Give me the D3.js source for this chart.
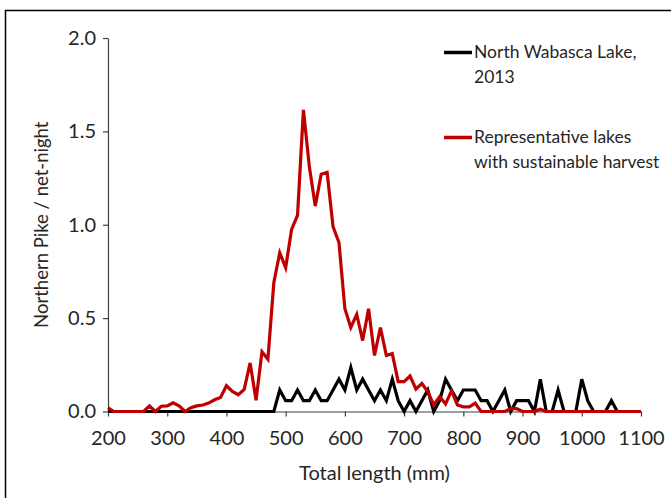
<!DOCTYPE html>
<html>
<head>
<meta charset="utf-8">
<script src="https://cdn.jsdelivr.net/npm/d3@7"></script>
<style>
  body { margin: 0; background: #fff; }
  text { font-family: Lato, "Open Sans", sans-serif; fill: #262626; }
</style>
</head>
<body>
<svg id="chart"></svg>
<script>
// total length bins (mm)
const lengths = [200, 210, 220, 230, 240, 250, 260, 270, 280, 290,
                 300, 310, 320, 330, 340, 350, 360, 370, 380, 390,
                 400, 410, 420, 430, 440, 450, 460, 470, 480, 490,
                 500, 510, 520, 530, 540, 550, 560, 570, 580, 590,
                 600, 610, 620, 630, 640, 650, 660, 670, 680, 690,
                 700, 710, 720, 730, 740, 750, 760, 770, 780, 790,
                 800, 810, 820, 830, 840, 850, 860, 870, 880, 890,
                 900, 910, 920, 930, 940, 950, 960, 970, 980, 990,
                 1000, 1010, 1020, 1030, 1040, 1050, 1060, 1070, 1080, 1090,
                 1100];

// North Wabasca Lake, 2013
const wabasca = [0, 0, 0, 0, 0, 0, 0, 0, 0, 0,
                 0, 0, 0, 0, 0, 0, 0, 0, 0, 0,
                 0, 0, 0, 0, 0, 0, 0, 0, 0, 0.115,
                 0.058, 0.058, 0.115, 0.058, 0.058, 0.115, 0.058, 0.058, 0.115, 0.173,
                 0.115, 0.235, 0.115, 0.173, 0.115, 0.058, 0.115, 0.058, 0.173, 0.058,
                 0, 0.058, 0, 0.058, 0.115, 0, 0.058, 0.173, 0.115, 0.058,
                 0.115, 0.115, 0.115, 0.058, 0.058, 0, 0.058, 0.115, 0, 0.058,
                 0.058, 0.058, 0, 0.173, 0, 0, 0.115, 0, 0, 0,
                 0.173, 0.058, 0, 0, 0, 0.058, 0, 0, 0, 0,
                 0];

// representative lakes with sustainable harvest
const representative = [0.02, 0, 0, 0, 0, 0, 0, 0.03, 0, 0.028,
                        0.03, 0.047, 0.03, 0, 0.02, 0.03, 0.035, 0.045, 0.063, 0.075,
                        0.138, 0.108, 0.09, 0.118, 0.26, 0.06, 0.32, 0.28, 0.69, 0.85,
                        0.77, 0.975, 1.05, 1.615, 1.31, 1.10, 1.27, 1.28, 0.99, 0.905,
                        0.55, 0.45, 0.52, 0.38, 0.55, 0.30, 0.45, 0.30, 0.31, 0.16,
                        0.16, 0.19, 0.12, 0.15, 0.105, 0.035, 0.08, 0.04, 0.11, 0.035,
                        0.025, 0.025, 0.045, 0, 0, 0, 0, 0, 0.015, 0.015,
                        0, 0, 0, 0.012, 0, 0, 0, 0, 0, 0,
                        0, 0, 0, 0, 0, 0, 0, 0, 0, 0,
                        0];

const xTicks = [200, 300, 400, 500, 600, 700, 800, 900, 1000, 1100];
const yTicks = [0, 0.5, 1.0, 1.5, 2.0];
const seriesNames = [["North Wabasca Lake,", "2013"],
                     ["Representative lakes", "with sustainable harvest"]];
const seriesColors = ["#000000", "#c00000"];

const w = 671, h = 498;
const svg = d3.select("#chart").attr("width", w).attr("height", h);

// outer frame (runs off the right and bottom edges)
svg.append("rect")
   .attr("x", 5.5).attr("y", 10.5)
   .attr("width", 700).attr("height", 520)
   .attr("fill", "none").attr("stroke", "#000").attr("stroke-width", 1.5);

const x = d3.scaleLinear().domain([200, 1100]).range([108, 641]);
const y = d3.scaleLinear().domain([0, 2]).range([411.5, 38]);

const xAxis = svg.append("g")
   .attr("transform", `translate(0,${y(0)})`)
   .call(d3.axisBottom(x).tickValues(xTicks).tickFormat(d3.format("d"))
           .tickSize(5).tickPadding(14).tickSizeOuter(0));
xAxis.selectAll("text").style("font-size", "20px");

const yAxis = svg.append("g")
   .attr("transform", `translate(${x(200)},0)`)
   .call(d3.axisLeft(y).tickValues(yTicks).tickFormat(d3.format(".1f"))
           .tickSize(5).tickPadding(7).tickSizeOuter(0));
yAxis.selectAll("text").style("font-size", "20px");

svg.selectAll(".domain, .tick line").attr("stroke", "#404040").attr("stroke-width", 1.2);

// axis titles
svg.append("text")
   .attr("x", (x(200) + x(1100)) / 2).attr("y", 480)
   .attr("text-anchor", "middle")
   .style("font-size", "20px")
   .text("Total length (mm)");

svg.append("text")
   .attr("transform", `translate(48,${(y(0) + y(2)) / 2}) rotate(-90)`)
   .attr("text-anchor", "middle")
   .style("font-size", "18.5px")
   .text("Northern Pike / net-night");

// lines
const line = d3.line()
   .x((d, i) => x(lengths[i]))
   .y(d => y(d));

[wabasca, representative].forEach((series, k) => {
  svg.append("path")
     .datum(series)
     .attr("fill", "none")
     .attr("stroke", seriesColors[k])
     .attr("stroke-width", 3.2)
     .attr("stroke-linejoin", "miter")
     .attr("d", line);
});

// legend
const legendY = [52.5, 137.5];
seriesNames.forEach((lines, k) => {
  const g = svg.append("g").attr("transform", `translate(444,${legendY[k]})`);
  g.append("line")
   .attr("x1", 0).attr("x2", 28)
   .attr("stroke", seriesColors[k]).attr("stroke-width", 3.5);
  g.selectAll("text.lg")
   .data(lines)
   .enter()
   .append("text")
   .attr("x", 30)
   .attr("y", (d, i) => 5.5 + i * 24.5)
   .style("font-size", "17.5px")
   .text(d => d);
});
</script>
</body>
</html>
